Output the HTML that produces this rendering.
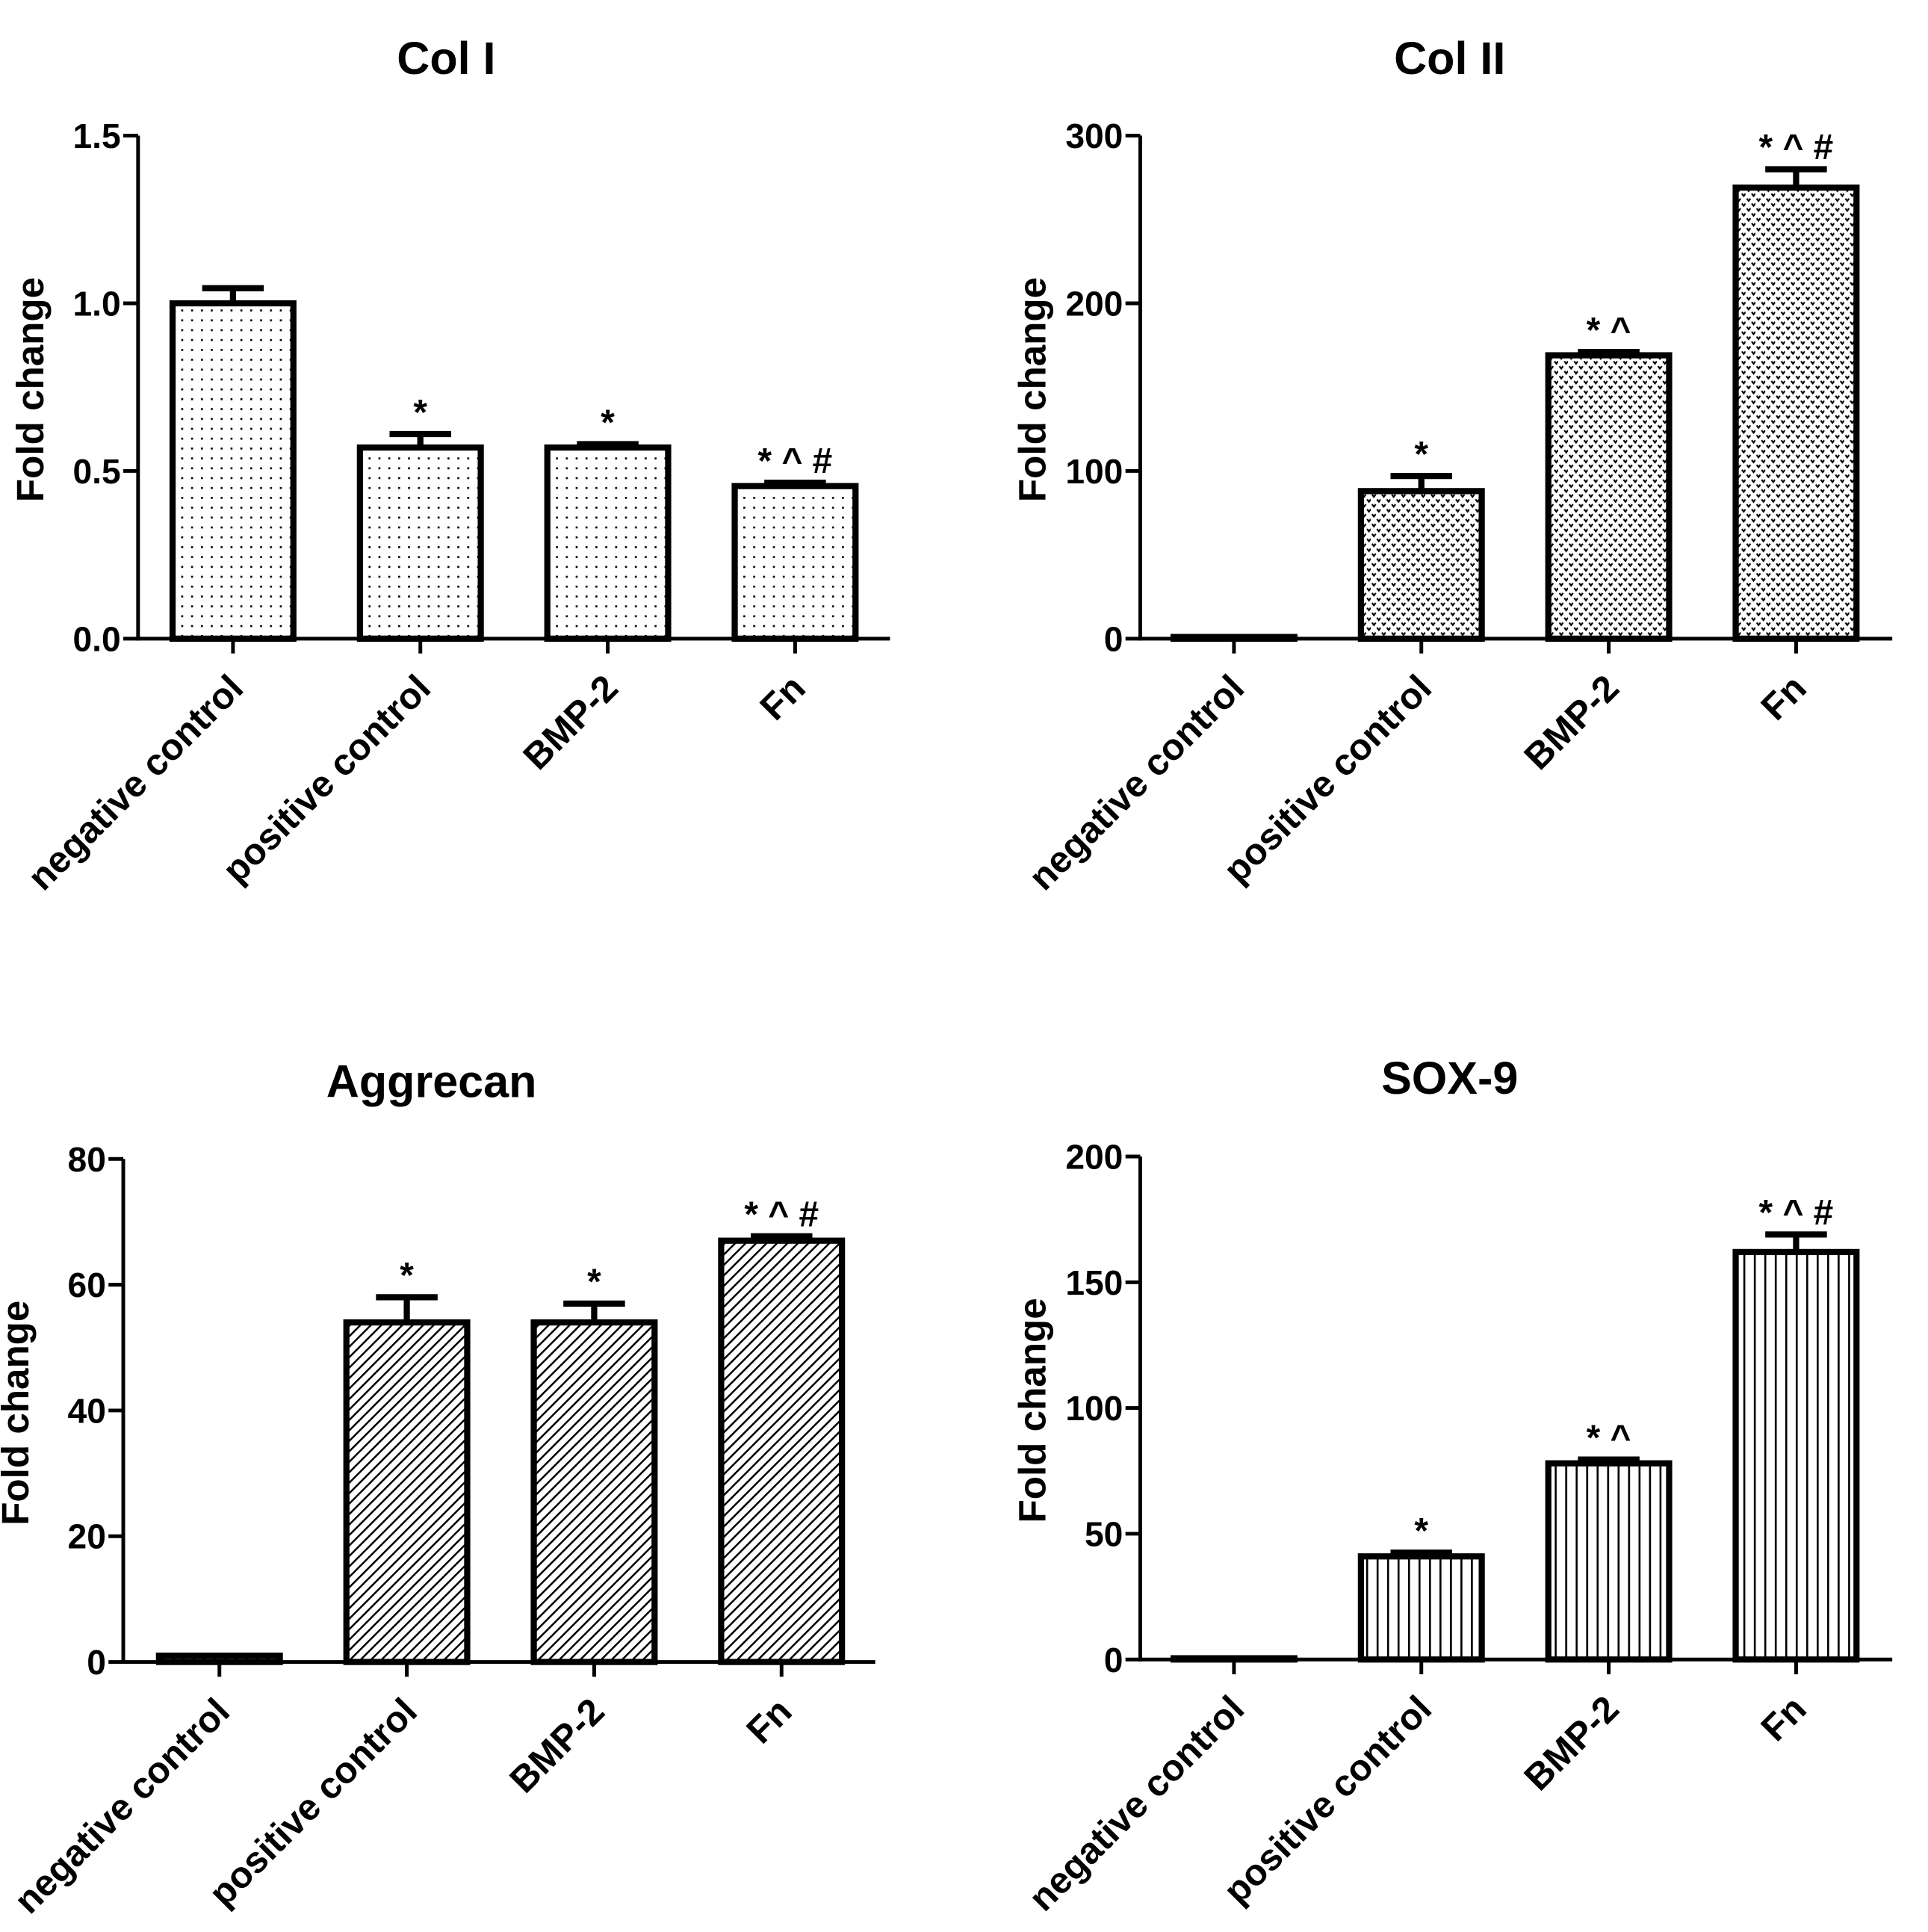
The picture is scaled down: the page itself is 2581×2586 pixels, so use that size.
<!DOCTYPE html>
<html><head><meta charset="utf-8"><style>
html,body{margin:0;padding:0;background:#fff;}
svg{display:block;}
text{font-family:"Liberation Sans",Arial,sans-serif;font-weight:bold;fill:#000;}
</style></head><body>
<svg id="fig" width="2581" height="2586" viewBox="0 0 1564 1567" xmlns="http://www.w3.org/2000/svg">
<defs>
<pattern id="pDots" width="8" height="8" patternUnits="userSpaceOnUse"><rect width="8" height="8" fill="#fff"/><rect x="3" y="3" width="1.6" height="1.6" fill="#000"/></pattern>
<pattern id="pV" width="8" height="8" patternUnits="userSpaceOnUse"><rect width="8" height="8" fill="#fff"/><path d="M1,1 L2.5,3 L4,1 M5,5 L6.5,7 L8,5" stroke="#000" stroke-width="1.3" fill="none"/></pattern>
<pattern id="pHatch" width="6" height="6" patternUnits="userSpaceOnUse" patternTransform="rotate(45)"><rect width="6" height="6" fill="#fff"/><line x1="0" y1="0" x2="0" y2="6" stroke="#000" stroke-width="3"/></pattern>
<pattern id="pVert" width="8.5" height="10" patternUnits="userSpaceOnUse"><rect width="8.5" height="10" fill="#fff"/><line x1="4" y1="0" x2="4" y2="10" stroke="#000" stroke-width="1.6"/></pattern>
</defs>
</svg>
<script>
const categories = ["negative control","positive control","BMP-2","Fn"];
const colIValues = [1.0, 0.57, 0.57, 0.455];
const colIErrors = [0.045, 0.04, 0.01, 0.01];
const colIAnnot = ["", "*", "*", "* ^ #"];
const colIITicks = [0,100,200,300];
const colIIValues = [1, 88, 169, 269];
const colIIErrors = [0, 9, 2, 11];
const colIIAnnot = ["", "*", "* ^", "* ^ #"];
const colITicks = [0,0.5,1.0,1.5];
const colITickLabels = ["0.0","0.5","1.0","1.5"];
const aggValues = [1, 54, 54, 67];
const aggErrors = [0, 4, 3, 0.7];
const aggTicks = [0,20,40,60,80];
const aggAnnot = ["", "*", "*", "* ^ #"];
const soxValues = [0.5, 41, 78, 162];
const soxErrors = [0, 1.5, 1.5, 7];
const soxTicks = [0,50,100,150,200];
const soxAnnot = ["", "*", "* ^", "* ^ #"];

const svg = document.getElementById('fig');
const NS = 'http://www.w3.org/2000/svg';
function mk(tag, attrs, parent){
  const e = document.createElementNS(NS, tag);
  for (const k in attrs) e.setAttribute(k, attrs[k]);
  (parent||svg).appendChild(e);
  return e;
}
function panel(cfg){
  const g = mk('g', {});
  
  
  const x0 = cfg.ax, y0 = cfg.y0, y1 = cfg.y1, xEnd = cfg.xEnd;
  const ymax = cfg.ticks[cfg.ticks.length-1];
  const yS = v => y0 - (v/ymax)*(y0-y1);
  const xS = i => cfg.c0 + i*152;
  const t = mk('text', {x: cfg.tx, y: cfg.ty, 'font-size': 37, 'text-anchor':'middle'}, g);
  t.textContent = cfg.title;
  
  
  const yt = mk('text', {x: 0, y: 0, 'font-size': 31, 'text-anchor':'middle', transform:`translate(${x0-77},${(y0+y1)/2+2}) rotate(-90)`}, g);
  yt.textContent = 'Fold change';
  
  
  cfg.values.forEach((v,i)=>{
    const cx = xS(i), top = yS(v), e = cfg.errors[i];
    if (e > 0) {
      const ey = yS(v+e);
      const el = mk('path', {d:`M${cx},${top} V${ey} M${cx-25},${ey} H${cx+25}`, stroke:'#000','stroke-width':5, fill:'none'}, g);
      
      
    }
    const h = Math.max(y0-top, 1);
    const r = mk('rect', {x: cx-49, y: y0-h, width: 98, height: h, fill: `url(#${cfg.pat})`, stroke:'#000', 'stroke-width':5}, g);
    
    
    if (cfg.annot[i]) {
      const ay = yS(v+e) - 8;
      const a = mk('text', {x: cx, y: ay, 'font-size': 29, 'text-anchor':'middle'}, g);
      a.textContent = cfg.annot[i];
      
      
    }
    const tk = mk('line', {x1:cx, x2:cx, y1:y0, y2:y0+12, stroke:'#000','stroke-width':3}, g);
    
    
    const lab = mk('text', {x:0, y:0, 'font-size': 30, 'text-anchor':'end', transform:`translate(${cx+10},${y0+42}) rotate(-45)`}, g);
    lab.textContent = categories[i];
    
    
  });
  const ya = mk('line', {x1:x0, x2:x0, y1:y1, y2:y0+1.5, stroke:'#000','stroke-width':3}, g);
  
  
  const xa = mk('line', {x1:x0-1.5, x2:xEnd, y1:y0, y2:y0, stroke:'#000','stroke-width':3}, g);
  
  
  cfg.ticks.forEach((tv,j)=>{
    const y = yS(tv);
    const tk = mk('line', {x1:x0-12, x2:x0, y1:y, y2:y, stroke:'#000','stroke-width':3}, g);
    
    
    const tl = mk('text', {x:x0-14, y:y+10, 'font-size':28, 'text-anchor':'end'}, g);
    tl.textContent = cfg.tickLabels ? cfg.tickLabels[j] : String(tv);
    
    
  });
}
panel({name:'col-i', title:'Col I', tx:362, ty:60, ax:112, y0:518, y1:110, xEnd:722, c0:189, ticks:colITicks, tickLabels:colITickLabels, values:colIValues, errors:colIErrors, annot:colIAnnot, pat:'pDots'});
panel({name:'col-ii', title:'Col II', tx:1176, ty:60, ax:925, y0:518, y1:110, xEnd:1535, c0:1001, ticks:colIITicks, values:colIIValues, errors:colIIErrors, annot:colIIAnnot, pat:'pV'});
panel({name:'aggrecan', title:'Aggrecan', tx:350, ty:890, ax:100, y0:1348, y1:940, xEnd:710, c0:178, ticks:aggTicks, values:aggValues, errors:aggErrors, annot:aggAnnot, pat:'pHatch'});
panel({name:'sox-9', title:'SOX-9', tx:1176, ty:887, ax:925, y0:1346, y1:938, xEnd:1535, c0:1001, ticks:soxTicks, values:soxValues, errors:soxErrors, annot:soxAnnot, pat:'pVert'});
</script>
</body></html>
